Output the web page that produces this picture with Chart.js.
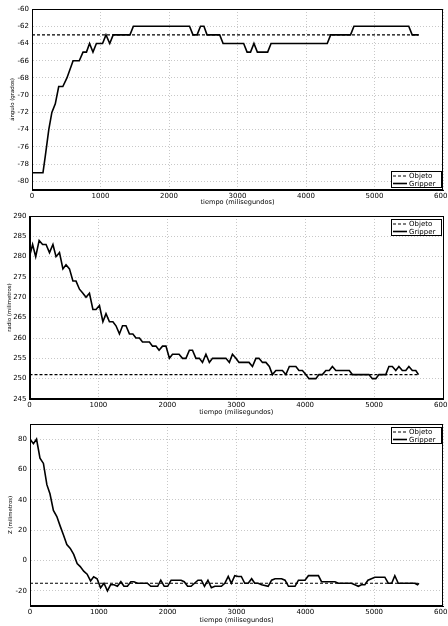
<!DOCTYPE html>
<html><head><meta charset="utf-8">
<script src="https://cdn.jsdelivr.net/npm/chart.js@4.4.1/dist/chart.umd.min.js"></script>
<style>html,body{margin:0;padding:0;background:#fff;}canvas{position:absolute;left:0;}</style>
</head><body>
<canvas id="c1" width="448" height="210" style="top:0px"></canvas>
<canvas id="c2" width="448" height="208" style="top:210px"></canvas>
<canvas id="c3" width="448" height="208" style="top:418px"></canvas>
<script>
// ---------- data ----------
const xTicks = [0, 1000, 2000, 3000, 4000, 5000, 6000];
const xTitle = 'tiempo (milisegundos)';
const seriesLabels = ['Objeto', 'Gripper'];

// Plot 1: ángulo
const angTicks = [-80, -78, -76, -74, -72, -70, -68, -66, -64, -62, -60];
const angObjT = [0, 5645];
const angObjV = [-63, -63];
const angGripT = [0, 160, 195, 245, 290, 340, 390, 450, 510, 600, 690, 745, 795, 840, 890, 940, 1030, 1080, 1135, 1185, 1430, 1480, 2300, 2350, 2410, 2460, 2510, 2555, 2740, 2790, 3090, 3140, 3190, 3240, 3290, 3440, 3490, 4310, 4360, 4650, 4700, 5500, 5550, 5645];
const angGripV = [-79, -79, -77, -74, -72, -71, -69, -69, -68, -66, -66, -65, -65, -64, -65, -64, -64, -63, -64, -63, -63, -62, -62, -63, -63, -62, -62, -63, -63, -64, -64, -65, -65, -64, -65, -65, -64, -64, -63, -63, -62, -62, -63, -63];

// Plot 2: radio
const radTicks = [245, 250, 255, 260, 265, 270, 275, 280, 285, 290];
const radObjT = [0, 5645];
const radObjV = [251, 251];
const radGripT = [0, 45, 90, 140, 190, 240, 290, 340, 385, 435, 485, 530, 580, 630, 675, 725, 775, 820, 870, 920, 965, 1015, 1065, 1110, 1160, 1210, 1255, 1305, 1350, 1400, 1450, 1500, 1545, 1595, 1640, 1740, 1785, 1835, 1880, 1930, 1980, 2030, 2075, 2170, 2220, 2270, 2320, 2365, 2415, 2465, 2510, 2560, 2610, 2655, 2850, 2900, 2945, 2995, 3040, 3185, 3235, 3285, 3330, 3380, 3430, 3480, 3525, 3575, 3670, 3720, 3770, 3865, 3910, 3960, 4010, 4055, 4155, 4200, 4250, 4300, 4350, 4395, 4445, 4640, 4685, 4925, 4975, 5025, 5070, 5170, 5215, 5265, 5315, 5360, 5410, 5460, 5505, 5555, 5605, 5645];
const radGripV = [280, 283, 280, 284, 283, 283, 281, 283, 280, 281, 277, 278, 277, 274, 274, 272, 271, 270, 271, 267, 267, 268, 264, 266, 264, 264, 263, 261, 263, 263, 261, 261, 260, 260, 259, 259, 258, 258, 257, 258, 258, 255, 256, 256, 255, 255, 257, 257, 255, 255, 254, 256, 254, 255, 255, 254, 256, 255, 254, 254, 253, 255, 255, 254, 254, 253, 251, 252, 252, 251, 253, 253, 252, 252, 251, 250, 250, 251, 251, 252, 252, 253, 252, 252, 251, 251, 250, 250, 251, 251, 253, 253, 252, 253, 252, 252, 253, 252, 252, 251];

// Plot 3: Z
const zTicks = [-20, 0, 20, 40, 60, 80];
const zObjT = [0, 5645];
const zObjV = [-15, -15];
const zGripT = [0, 50, 95, 145, 195, 245, 290, 340, 390, 440, 485, 535, 585, 635, 685, 730, 780, 830, 880, 925, 975, 1025, 1075, 1125, 1170, 1220, 1270, 1320, 1365, 1415, 1465, 1510, 1560, 1705, 1755, 1855, 1900, 1950, 2000, 2050, 2195, 2240, 2290, 2340, 2390, 2440, 2490, 2535, 2585, 2635, 2685, 2780, 2830, 2880, 2925, 2975, 3025, 3070, 3120, 3170, 3220, 3265, 3315, 3365, 3460, 3510, 3560, 3655, 3705, 3755, 3850, 3900, 3995, 4045, 4190, 4235, 4430, 4480, 4670, 4720, 4770, 4815, 4865, 4910, 4960, 5010, 5155, 5205, 5255, 5300, 5350, 5590, 5630, 5650];
const zGripV = [80, 77, 80, 67.5, 64, 50, 44, 33, 29, 22.5, 17, 10.5, 8, 4, -2, -4, -7, -9, -13.5, -10.7, -12, -18, -15, -20, -16, -16, -17, -14, -17, -17, -14, -14, -15, -15, -17, -17, -13, -17, -17, -13, -13, -14, -17, -17, -15, -13, -13, -17, -13, -18, -17, -17, -15, -10.5, -15, -10, -10.5, -10.5, -15, -15, -12, -15, -15, -16, -17, -13, -12, -12, -13, -17, -17, -13, -13, -10, -10, -14, -14, -15, -15, -16, -17, -16, -16, -13, -12, -11, -11, -15, -15, -10, -15, -15, -16, -15];

// ---------- helpers ----------
const pts = (t, v) => t.map((x, i) => ({x: x, y: v[i]}));
const FONT = 'DejaVu Sans';

const frameLegend = {
  id: 'frameLegend',
  afterDraw(chart, args, o) {
    const {ctx, chartArea: a} = chart;
    ctx.save();
    ctx.strokeStyle = '#000';
    ctx.lineWidth = 1;
    ctx.strokeRect(Math.round(a.left) + 0.5, Math.round(a.top) + 0.5, Math.round(a.right - a.left) - 1, Math.round(a.bottom - a.top) - 1);
    const w = 51, h = 17;
    const x = Math.round(a.right - w - 1);
    const y = Math.round(o.pos === 'bottom' ? a.bottom - h - 2 : a.top + 3);
    ctx.fillStyle = '#fff';
    ctx.fillRect(x, y, w, h);
    ctx.strokeRect(x + 0.5, y + 0.5, w - 1, h - 1);
    chart.data.datasets.forEach((ds, i) => {
      const ly = y + 5 + i * 7.5;
      ctx.setLineDash(ds.borderDash || []);
      ctx.lineWidth = ds.borderWidth;
      ctx.strokeStyle = '#000';
      ctx.beginPath(); ctx.moveTo(x + 2, ly); ctx.lineTo(x + 16, ly); ctx.stroke();
      ctx.setLineDash([]);
      ctx.fillStyle = '#000';
      ctx.font = '7px "' + FONT + '"';
      ctx.textBaseline = 'middle';
      ctx.textAlign = 'left';
      ctx.fillText(ds.label, x + 18, ly + 0.5);
    });
    ctx.restore();
  }
};

function make(id, cfg) {
  const yTickList = cfg.yTicks;
  new Chart(document.getElementById(id), {
    type: 'line',
    data: {
      datasets: [
        {label: seriesLabels[0], data: pts(cfg.objT, cfg.objV), borderColor: '#000', borderWidth: 1.1, borderDash: [3, 2], pointRadius: 0, tension: 0, fill: false},
        {label: seriesLabels[1], data: pts(cfg.gripT, cfg.gripV), borderColor: '#000', borderWidth: 1.6, pointRadius: 0, tension: 0, fill: false}
      ]
    },
    options: {
      responsive: false,
      devicePixelRatio: 1,
      animation: false,
      layout: {padding: {top: cfg.padTop, right: 5, left: 0, bottom: 0}},
      plugins: {legend: {display: false}, tooltip: {enabled: false}, frameLegend: {pos: cfg.legendPos}},
      scales: {
        x: {
          type: 'linear', min: 0, max: 6000,
          afterBuildTicks: s => { s.ticks = xTicks.map(v => ({value: v})); },
          afterFit: s => { s.height = cfg.xH; s.paddingLeft = 0; s.paddingRight = 0; },
          ticks: {color: '#000', font: {family: FONT, size: 7}, padding: 2, maxRotation: 0, autoSkip: false, callback: v => String(v)},
          grid: {color: '#c8c8c8', lineWidth: 1, drawTicks: false},
          border: {display: true, color: '#000', width: 1, dash: [1, 2]},
          title: {display: true, text: xTitle, color: '#000', font: {family: FONT, size: 6.6}, padding: {top: 0, bottom: cfg.xTitlePad}}
        },
        y: {
          type: 'linear', min: cfg.yMin, max: cfg.yMax,
          afterBuildTicks: s => { s.ticks = yTickList.map(v => ({value: v})); },
          afterFit: s => { s.width = cfg.yW; s.paddingTop = 0; s.paddingBottom = 0; },
          ticks: {color: '#000', font: {family: FONT, size: 7}, padding: 3, autoSkip: false, callback: v => String(v)},
          grid: {color: '#c8c8c8', lineWidth: 1, drawTicks: false},
          border: {display: true, color: '#000', width: 1, dash: [1, 2]},
          title: {display: true, text: cfg.yTitle, color: '#000', font: {family: FONT, size: 5.4}, padding: {top: cfg.yTitlePad, bottom: 0}}
        }
      }
    },
    plugins: [frameLegend]
  });
}

make('c1', {objT: angObjT, objV: angObjV, gripT: angGripT, gripV: angGripV, yTicks: angTicks, yMin: -81, yMax: -60,
  yTitle: 'ángulo (grados)', padTop: 9, xH: 20, yW: 32, xTitlePad: 4, yTitlePad: 9.5, legendPos: 'bottom'});
make('c2', {objT: radObjT, objV: radObjV, gripT: radGripT, gripV: radGripV, yTicks: radTicks, yMin: 245, yMax: 290,
  yTitle: 'radio (milimetros)', padTop: 6, xH: 19, yW: 29.5, xTitlePad: 2, yTitlePad: 6, legendPos: 'top'});
make('c3', {objT: zObjT, objV: zObjV, gripT: zGripT, gripV: zGripV, yTicks: zTicks, yMin: -30, yMax: 90,
  yTitle: 'Z (milimetros)', padTop: 6, xH: 20, yW: 30, xTitlePad: 2, yTitlePad: 7, legendPos: 'top'});
</script>
</body></html>
